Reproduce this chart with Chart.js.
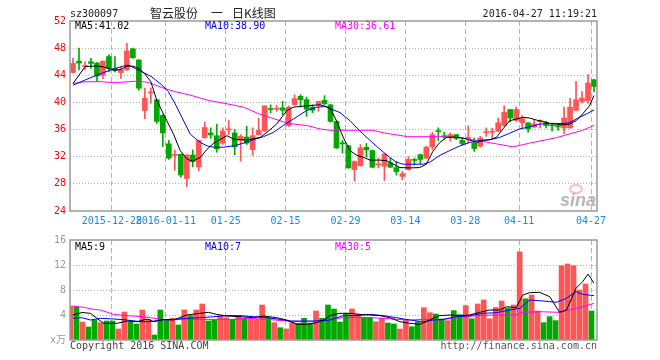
<!DOCTYPE html>
<html>
<head>
<meta charset="utf-8">
<script src="https://cdn.jsdelivr.net/npm/chart.js@4.4.0/dist/chart.umd.min.js"></script>
<style>
body{margin:0;background:#fff;width:660px;height:360px;position:relative;overflow:hidden;font-family:"DejaVu Sans Mono",monospace;}
canvas{position:absolute;left:0;}
.t{position:absolute;font-size:10px;line-height:12px;white-space:nowrap;}
.cn{position:absolute;top:6px;font-family:'Noto Sans CJK SC',sans-serif;font-size:12px;line-height:13px;color:#222;white-space:nowrap;}
</style>
</head>
<body>
<canvas id="kline" width="660" height="232" style="top:0;width:660px;height:232px"></canvas>
<canvas id="vol" width="660" height="130" style="top:230px;width:660px;height:130px"></canvas>

<div class="t" style="left:70px;top:8px;color:#222">sz300097</div>
<div class="cn" style="left:150px">智云股份</div>
<div class="cn" style="left:211px">一</div>
<div class="cn" style="left:232px">日K线图</div>
<div class="t" style="right:63px;top:8px;color:#222">2016-04-27 11:19:21</div>

<div class="t" style="left:75px;top:20px;color:#000">MA5:41.02</div>
<div class="t" style="left:205px;top:20px;color:#0000e6">MA10:38.90</div>
<div class="t" style="left:335px;top:20px;color:#f0f">MA30:36.61</div>

<div class="t" style="left:75px;top:241px;color:#000">MA5:9</div>
<div class="t" style="left:205px;top:241px;color:#0000e6">MA10:7</div>
<div class="t" style="left:335px;top:241px;color:#f0f">MA30:5</div>

<div class="t" style="left:70px;top:340px;color:#444">Copyright 2016 SINA.COM</div>
<div class="t" style="right:63px;top:340px;color:#555">http://finance.sina.com.cn</div>

<script>
// trading days shown, one per candle
var dates = [
  '2015-12-17','2015-12-18','2015-12-21','2015-12-22','2015-12-23','2015-12-24','2015-12-25','2015-12-28','2015-12-29','2015-12-30','2015-12-31',
  '2016-01-04','2016-01-05','2016-01-06','2016-01-07','2016-01-08','2016-01-11','2016-01-12','2016-01-13','2016-01-14','2016-01-15',
  '2016-01-18','2016-01-19','2016-01-20','2016-01-21','2016-01-22','2016-01-25','2016-01-26','2016-01-27','2016-01-28','2016-01-29',
  '2016-02-01','2016-02-02','2016-02-03','2016-02-04','2016-02-05','2016-02-15','2016-02-16','2016-02-17','2016-02-18','2016-02-19',
  '2016-02-22','2016-02-23','2016-02-24','2016-02-25','2016-02-26','2016-02-29',
  '2016-03-01','2016-03-02','2016-03-03','2016-03-04','2016-03-07','2016-03-08','2016-03-09','2016-03-10','2016-03-11','2016-03-14',
  '2016-03-15','2016-03-16','2016-03-17','2016-03-18','2016-03-21','2016-03-22','2016-03-23','2016-03-24','2016-03-25','2016-03-28',
  '2016-03-29','2016-03-30','2016-03-31',
  '2016-04-01','2016-04-05','2016-04-06','2016-04-07','2016-04-08','2016-04-11','2016-04-12','2016-04-13','2016-04-14','2016-04-15',
  '2016-04-18','2016-04-19','2016-04-20','2016-04-21','2016-04-22','2016-04-25','2016-04-26','2016-04-27'
];

var tickDates = ['2015-12-28','2016-01-11','2016-01-25','2016-02-15','2016-02-29','2016-03-14','2016-03-28','2016-04-11','2016-04-27'];
var tickText  = ['2015-12-28','2016-01-11','01-25','02-15','02-29','03-14','03-28','04-11','04-27'];

var opens = [
  44.4,46.1,45.3,46.0,45.8,44.0,46.75,45.0,44.4,44.8,
  47.9,46.25,38.8,41.4,40.4,38.1,33.9,32.2,32.35,28.8,
  32.25,30.5,34.8,35.5,35.1,34.0,35.95,35.5,34.4,34.9,
  33.05,35.25,35.8,39.05,39.0,39.2,36.6,39.7,40.9,40.4,
  39.3,39.65,40.3,39.65,37.2,33.95,33.6,30.1,30.7,33.4,
  32.9,30.8,30.6,31.1,30.4,29.1,30.1,31.5,32.3,31.8,
  33.45,35.8,35.05,34.9,35.25,34.4,34.7,34.0,33.55,35.55,
  35.6,35.75,36.6,38.95,37.35,37.0,37.0,36.4,37.15,37.05,
  36.6,36.6,36.25,36.25,38.85,40.15,40.25,43.35
];
var highs = [
  46.5,48.0,46.0,46.5,45.9,46.1,47.0,46.75,45.3,48.7,
  48.0,46.3,42.1,42.1,40.4,38.2,34.4,33.0,32.4,32.3,
  33.0,34.4,37.1,36.25,36.8,36.25,37.35,36.0,35.25,36.5,
  36.25,37.7,39.5,39.65,39.6,40.15,39.5,41.15,41.15,40.8,
  39.65,40.2,41.0,39.7,37.3,34.4,33.7,31.4,33.8,33.95,
  33.0,31.8,32.4,31.8,31.3,29.85,32.0,31.8,32.4,33.55,
  35.6,36.25,35.6,35.5,35.3,34.75,36.55,34.75,35.0,36.25,
  36.2,37.7,39.5,39.0,39.3,38.05,37.0,37.45,37.45,37.2,
  36.95,36.7,39.3,40.6,43.1,41.6,44.1,43.4
];
var lows = [
  44.3,44.8,44.8,45.0,43.1,43.5,44.5,44.5,43.55,44.7,
  46.5,41.8,37.6,39.9,36.9,33.5,31.6,30.0,29.0,27.6,
  30.5,29.9,34.7,34.7,32.65,33.8,35.25,32.3,31.35,33.8,
  32.2,35.2,35.7,38.45,38.7,38.2,36.4,39.5,39.3,37.95,
  38.5,38.7,39.65,37.1,33.2,32.55,30.3,28.4,30.6,31.95,
  30.4,30.35,28.5,30.4,29.3,28.6,30.0,30.75,31.0,31.7,
  33.05,34.4,34.6,34.3,34.5,33.65,34.0,32.8,33.4,35.0,
  34.8,35.7,36.5,37.1,37.2,36.25,35.6,36.25,36.25,36.25,
  35.75,35.9,35.4,36.2,38.8,39.9,39.9,41.6
];
var closes = [
  45.75,45.8,45.4,45.75,43.9,46.1,45.0,44.7,44.8,47.6,
  46.6,42.1,40.6,41.5,37.2,35.5,31.8,32.3,29.3,32.25,
  31.3,34.4,36.3,35.2,33.15,35.8,36.0,33.45,35.0,34.0,
  35.1,35.85,39.5,38.95,39.1,38.85,39.3,40.55,40.4,39.0,
  38.85,40.15,39.8,37.2,33.3,33.9,30.35,31.3,33.3,33.0,
  30.45,30.9,32.4,30.45,29.8,29.5,31.6,31.45,31.6,33.4,
  35.25,35.7,34.95,35.25,34.7,33.95,34.8,33.2,34.75,35.65,
  35.65,37.0,38.55,37.7,38.95,37.6,36.1,36.85,37.2,36.6,
  36.55,36.4,37.7,39.3,40.4,40.65,42.85,42.35
];
// volume, x 10k shares
var volumes = [
  5.44,5.33,2.88,2.08,3.2,2.77,3.04,3.04,1.76,4.48,
  2.93,2.56,4.8,3.3,0.8,4.8,3.3,3.47,2.4,4.8,
  3.9,4.8,5.76,3.04,3.2,3.84,3.57,3.3,3.84,3.47,
  3.3,3.3,5.6,3.57,2.77,1.97,1.76,2.77,2.67,3.47,
  2.67,4.64,3.47,5.6,4.96,2.88,4.2,4.96,4.1,3.57,
  3.57,2.93,3.47,2.72,2.56,1.76,3.2,2.13,2.93,5.17,
  4.37,4.16,3.36,3.1,4.7,4.05,5.5,3.4,5.76,6.4,
  3.4,5.2,6.24,5.1,5.6,14.1,6.6,7.2,4.64,2.77,
  3.73,3.1,11.9,12.16,11.9,8.0,8.96,4.64
];

// moving average lines: [candle position, value]
var ma5 = [[0,42.8],[1,44.0],[2,45.25],[3,45.35],[4,45.35],[5,45.25],[6,45.0],[7,44.76],[8,44.86],[9,45.35],[10,45.35],[11,45.0],[12,44.2],[13,43.05],[14,40.3],[15.1,38.3],[16.8,35.3],[17.9,32.9],[19,31.7],[19.9,31.3],[21.25,31.9],[22.4,33.1],[23.5,34.0],[25.7,35.1],[26.8,34.6],[29,34.45],[31.25,34.85],[32.4,35.6],[34,36.8],[35.7,38.8],[36.8,39.3],[39,39.5],[41.25,39.65],[42.9,39.2],[44,37.3],[45.1,34.9],[46.25,32.9],[47.4,32.2],[48.5,31.9],[49.6,31.5],[51.25,31.5],[52.4,31.4],[53.5,30.9],[54.6,30.4],[56.25,30.35],[57.9,30.4],[59,30.9],[60.1,32.8],[61.25,34.1],[62.4,34.85],[63.5,34.9],[65.1,34.75],[66.25,34.45],[67.4,34.1],[68.5,34.4],[69.6,34.5],[70.7,34.85],[71.8,36.1],[72.9,37.3],[74,37.55],[75.1,37.8],[76.25,37.7],[77.4,37.4],[78.5,37.2],[79.6,36.9],[80.7,36.8],[81.8,36.7],[82.9,36.8],[84,37.3],[85.1,38.3],[86.25,39.5],[87,41.02]];
var ma10 = [[0,42.55],[2,43.3],[4.8,44.3],[7,45.0],[8.4,45.35],[9.25,45.5],[10.4,45.0],[12,44.3],[13.1,43.8],[14.8,42.6],[15.9,41.6],[17,39.9],[17.9,38.3],[19.6,35.3],[21.25,34.1],[22.4,33.6],[23.5,33.4],[25.1,33.4],[26.8,33.6],[28.5,34.0],[30.1,34.5],[31.8,34.95],[33.5,35.6],[35.1,36.6],[36.8,37.55],[39,38.8],[40.7,39.3],[42.1,39.4],[42.9,39.1],[44.6,38.5],[46.25,37.3],[47.9,35.8],[49.6,34.4],[51.25,33.1],[52.9,31.9],[54,31.2],[55.1,30.9],[56.8,30.9],[58.5,30.9],[59.6,31.2],[61.25,32.2],[62.9,32.9],[64.6,33.6],[66.25,34.1],[67.9,34.4],[69.6,34.5],[71.25,34.85],[72.9,35.45],[74.6,36.1],[76.25,36.4],[77.9,36.8],[79.6,36.9],[81.8,36.9],[82.9,37.0],[84,37.55],[85.75,38.3],[87,38.9]];
var ma30 = [[0,42.8],[2,43.05],[4.8,43.05],[7,42.9],[9.25,43.05],[10.9,43.15],[12.6,42.95],[14.8,42.2],[17,41.6],[19.5,41.1],[22.6,40.3],[25.7,39.8],[28.5,39.3],[31.1,38.3],[33.9,37.5],[36,36.9],[39,36.6],[41.25,36.1],[42.9,35.9],[46,35.9],[50.1,35.9],[52,35.5],[55.9,34.95],[61.25,34.95],[65.1,34.75],[70.7,33.9],[73.5,33.45],[76.25,34.0],[80.7,34.8],[85.1,35.9],[87,36.61]];

var vma5 = [[0,4.0],[1.5,4.4],[2.9,4.27],[4,3.47],[5.1,2.67],[7.4,2.67],[9,3.04],[10.7,2.93],[12.4,3.36],[13.5,2.93],[15.1,3.3],[16.8,3.2],[19,4.0],[21.25,4.27],[22.6,4.43],[24,4.1],[25.7,3.84],[27.9,3.73],[30.1,3.57],[31.8,3.84],[34,3.57],[35.7,3.2],[37.4,2.5],[39,2.5],[40.7,2.77],[42.1,3.3],[42.9,3.9],[44.6,4.27],[46.25,4.27],[47.9,4.1],[49.6,4.0],[51.25,3.9],[52.9,3.57],[54.6,2.93],[56.25,2.67],[57.9,2.5],[59,2.93],[60.1,3.47],[61.25,3.9],[62.9,4.0],[64.6,3.9],[66.25,4.0],[67.9,4.43],[69.6,4.8],[71.25,4.8],[72.4,5.33],[74,5.17],[75.1,7.2],[76.25,7.57],[77.9,7.63],[79.6,6.93],[81.25,4.43],[82.4,4.8],[84,8.27],[85.1,9.33],[86,10.55],[87,9.1]];
var vma10 = [[0,3.47],[1.5,3.57],[2.9,3.2],[4.6,3.47],[6.8,3.36],[9,3.2],[11.25,2.93],[12.9,2.93],[14.6,3.2],[16.8,3.3],[19,3.47],[21.25,3.57],[23.5,3.73],[25.7,3.9],[27.9,3.9],[30.1,3.73],[32.4,3.57],[34.6,3.3],[36.25,3.04],[37.9,3.04],[40.1,3.04],[41.8,3.1],[42.9,3.2],[45.1,3.9],[47.4,3.9],[49.6,4.1],[51.8,3.9],[54,3.57],[56.25,3.2],[58.5,2.93],[60.1,3.2],[61.8,3.3],[64,3.73],[66.25,3.9],[68.5,4.27],[70.7,4.37],[72.9,4.8],[74.6,5.07],[76.25,6.4],[78.5,6.24],[80.7,6.03],[82.4,6.67],[84,7.73],[85.1,7.3],[87,7.1]];
var vma30 = [[0,5.44],[1.8,5.23],[3.5,4.9],[4.6,4.8],[6.8,4.1],[9,3.9],[11.8,3.73],[12.9,3.57],[15.7,3.2],[19,3.36],[21.25,3.3],[24.6,3.3],[26.8,3.3],[29,3.47],[32.4,3.3],[35.7,3.04],[37.9,2.93],[40.1,2.93],[42.9,3.3],[45.1,3.57],[48.5,3.63],[51.8,3.47],[55.9,3.2],[58.5,3.3],[61.25,3.2],[64,3.57],[67.4,3.9],[70.7,4.0],[74,4.0],[75.1,4.43],[77.9,4.53],[81.25,4.43],[82.9,4.8],[85.1,5.33],[87,5.87]];

var UP = '#ff5555', DOWN = '#00a800';
var GRID = '#b4b4b4';
Chart.defaults.font.family = '"DejaVu Sans Mono","Noto Sans CJK SC",monospace';
Chart.defaults.font.size = 10;

var candleColors = closes.map(function(c, i){ return c >= opens[i] ? UP : DOWN; });

function pts(arr){ return arr.map(function(p){ return {x: p[0], y: p[1]}; }); }

function maLine(arr, color){
  return {
    type: 'line', xAxisID: 'xl', data: pts(arr),
    borderColor: color, borderWidth: 1, pointRadius: 0, tension: 0, order: 0
  };
}

// dashed vertical lines only at the labelled dates
function xScale(showLabels){
  return {
    type: 'category',
    offset: true,
    grid: {
      offset: true, drawTicks: false,
      color: function(ctx){ return tickDates.indexOf(dates[ctx.index]) >= 0 ? GRID : 'rgba(0,0,0,0)'; }
    },
    border: {display: false, dash: [5, 3]},
    ticks: {
      display: showLabels, autoSkip: false, maxRotation: 0, padding: 4, labelOffset: -3,
      color: '#1a88e8',
      callback: function(v, i){ var k = tickDates.indexOf(dates[i]); return k >= 0 ? tickText[k] : ''; }
    },
    afterFit: function(s){ s.height = showLabels ? 21 : 20; }
  };
}

// candle-position axis for the average lines, same span as the category axis
var hiddenX = {type: 'linear', display: false, offset: false, min: -0.5, max: dates.length - 0.5};

var frame = {
  id: 'frame',
  afterDraw: function(chart){
    var a = chart.chartArea, c = chart.ctx;
    c.save();
    c.strokeStyle = '#999';
    c.lineWidth = 1.5;
    c.strokeRect(a.left, a.top, a.right - a.left, a.bottom - a.top);
    c.restore();
  }
};

var watermark = {
  id: 'watermark',
  beforeDatasetsDraw: function(chart){
    var c = chart.ctx, a = chart.chartArea;
    c.save();
    c.strokeStyle = 'rgba(240,140,140,0.55)';
    c.lineWidth = 2;
    c.beginPath();
    c.ellipse(a.right - 21, a.bottom - 22, 6, 4, 0, 0, Math.PI * 2);
    c.stroke();
    c.fillStyle = 'rgba(165,165,165,0.8)';
    c.font = 'italic bold 18px "Liberation Sans"';
    c.textAlign = 'right';
    c.textBaseline = 'alphabetic';
    c.fillText('sina', a.right - 1, a.bottom - 5);
    c.restore();
  }
};

new Chart(document.getElementById('kline'), {
  type: 'bar',
  data: {
    labels: dates,
    datasets: [
      {
        data: lows.map(function(l, i){ return [l, highs[i]]; }),
        backgroundColor: candleColors, barThickness: 1, grouped: false, order: 2
      },
      {
        data: opens.map(function(o, i){ return [o, closes[i]]; }),
        backgroundColor: candleColors, barThickness: 5, minBarLength: 1, grouped: false, order: 1
      },
      maLine(ma5, '#000'),
      maLine(ma10, '#0000ff'),
      maLine(ma30, '#ff00ff')
    ]
  },
  options: {
    responsive: false, animation: false,
    layout: {padding: {left: 0, right: 63, top: 21, bottom: 0}},
    plugins: {legend: {display: false}, tooltip: {enabled: false}},
    scales: {
      x: xScale(true),
      xl: hiddenX,
      y: {
        min: 24, max: 52,
        ticks: {stepSize: 4, color: '#f00', padding: 4},
        grid: {
          drawTicks: false,
          color: function(ctx){ var v = ctx.tick.value; return (v === 24 || v === 52) ? 'rgba(0,0,0,0)' : GRID; }
        },
        border: {display: false, dash: [1, 2]},
        afterFit: function(s){ s.width = 70; }
      }
    }
  },
  plugins: [watermark, frame]
});

new Chart(document.getElementById('vol'), {
  type: 'bar',
  data: {
    labels: dates,
    datasets: [
      {data: volumes, backgroundColor: candleColors, barThickness: 5, order: 1},
      maLine(vma5, '#000'),
      maLine(vma10, '#0000ff'),
      maLine(vma30, '#ff00ff')
    ]
  },
  options: {
    responsive: false, animation: false,
    layout: {padding: {left: 0, right: 63, top: 10, bottom: 0}},
    plugins: {legend: {display: false}, tooltip: {enabled: false}},
    scales: {
      x: xScale(false),
      xl: hiddenX,
      y: {
        min: 0, max: 16,
        ticks: {stepSize: 4, color: '#999', padding: 4, callback: function(v){ return v === 0 ? 'x万' : v; }},
        grid: {
          drawTicks: false,
          color: function(ctx){ var v = ctx.tick.value; return (v === 0 || v === 16) ? 'rgba(0,0,0,0)' : GRID; }
        },
        border: {display: false, dash: [1, 2]},
        afterFit: function(s){ s.width = 70; }
      }
    }
  },
  plugins: [frame]
});
</script>
</body>
</html>
